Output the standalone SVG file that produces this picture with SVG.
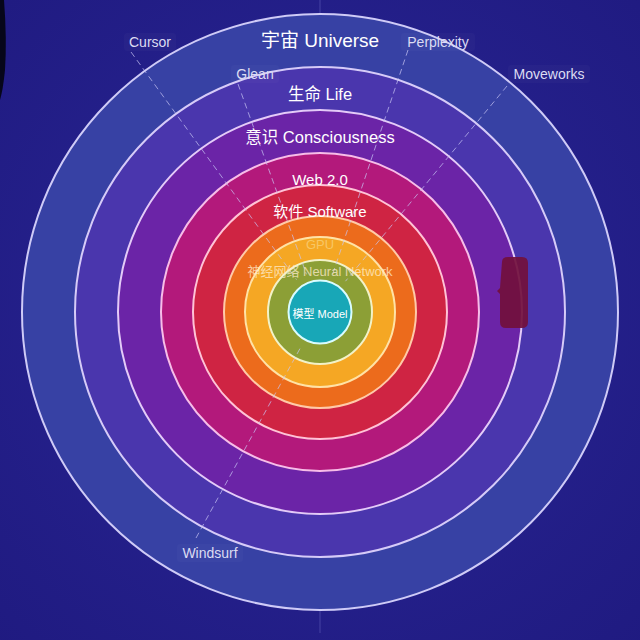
<svg xmlns="http://www.w3.org/2000/svg" width="640" height="640" viewBox="0 0 640 640">
  <defs>
    <radialGradient id="bg" cx="50%" cy="48%" r="75%">
      <stop offset="0" stop-color="#2a2696"/>
      <stop offset="1" stop-color="#1f1a80"/>
    </radialGradient>
    <style>
      .ring { stroke-width: 2; }
      .t { font-family: "Liberation Sans", "Noto Sans CJK SC", sans-serif; text-anchor: middle; fill: #ffffff; }
      .lab { font-family: "Liberation Sans", "Noto Sans CJK SC", sans-serif; text-anchor: middle; fill: #dcdcf2; font-size: 14px; }
      .dash { fill: none; stroke: #c8c4f4; stroke-width: 1; stroke-dasharray: 6 4; opacity: 0.7; }
      .guide { stroke: #8a88d8; stroke-width: 1; opacity: 0.35; }
      .chip { fill: #ffffff; opacity: 0.025; }
    </style>
  </defs>

  <rect x="0" y="0" width="640" height="640" fill="url(#bg)"/>
  <path d="M0,0 L4,0 Q7,40 5,70 Q3,90 0,100 Z" fill="#06061a"/>

  <g id="guides">
    <line class="guide" x1="320" y1="0" x2="320" y2="100"/>
    <line class="guide" x1="163" y1="99" x2="482" y2="99"/>
    <line class="guide" x1="160" y1="527" x2="480" y2="527"/>
    <line class="guide" x1="320" y1="527" x2="320" y2="633"/>
  </g>

  <g id="universe">
    <circle class="ring" cx="320" cy="312" r="298" fill="#3741a4" stroke="#cfcbf7"/>
  </g>
  <g id="life">
    <circle class="ring" cx="320" cy="312" r="245" fill="#4a36ad" stroke="#d6cbf8"/>
  </g>
  <g id="consciousness">
    <circle class="ring" cx="320" cy="312" r="202" fill="#6b24a7" stroke="#e4cbf8"/>
  </g>
  <g id="web20">
    <circle class="ring" cx="320" cy="312" r="159" fill="#b3197b" stroke="#f7bde8"/>
  </g>
  <g id="software">
    <circle class="ring" cx="320" cy="312" r="127" fill="#cf2443" stroke="#ffc3d6"/>
  </g>
  <g id="gpu">
    <circle class="ring" cx="320" cy="312" r="96" fill="#ec6b1c" stroke="#ffcaa8"/>
  </g>
  <g id="neural-network">
    <circle class="ring" cx="320" cy="312" r="75" fill="#f5a724" stroke="#ffe2a6"/>
  </g>
  <g id="green-ring">
    <circle class="ring" cx="320" cy="312" r="52" fill="#8c9f36" stroke="#f2f2c8"/>
  </g>
  <g id="model">
    <circle class="ring" cx="320" cy="312" r="31.5" fill="#18a7b7" stroke="#dafcff"/>
  </g>

  <path d="M502,262 Q502,257 508,257 L522,257 Q528,257 528,263 L528,322 Q528,328 522,328 L506,328 Q500,328 500,322 L500,294 L497,291 L500,288 Z" fill="#72103c" opacity="0.92"/>

  <g id="connectors">
    <line class="dash" x1="131" y1="52" x2="296.5" y2="279.6"/>
    <line class="dash" x1="238" y1="84" x2="306.5" y2="274.4"/>
    <line class="dash" x1="408" y1="50" x2="332.7" y2="274.1"/>
    <line class="dash" x1="507" y1="86" x2="345.5" y2="281.2"/>
    <line class="dash" x1="196" y1="538" x2="300.8" y2="347.1"/>
  </g>

  <g id="ring-labels">
    <text class="t" x="320" y="47" font-size="19">宇宙 Universe</text>
    <text class="t" x="320" y="100" font-size="16.5">生命 Life</text>
    <text class="t" x="320" y="143" font-size="16.5">意识 Consciousness</text>
    <text class="t" x="320" y="185" font-size="15">Web 2.0</text>
    <text class="t" x="320" y="217" font-size="15">软件 Software</text>
    <text class="t" x="320" y="249" font-size="13" style="fill:#f9d27a" opacity="0.75">GPU</text>
    <text class="t" x="320" y="276" font-size="13" style="fill:#ffeccc" opacity="0.75">神经网络 Neural Network</text>
    <text class="t" x="320" y="318" font-size="11">模型 Model</text>
  </g>

  <g id="cursor">
    <rect class="chip" x="124" y="33" width="52" height="18" rx="3"/>
    <text class="lab" x="150" y="47">Cursor</text>
  </g>
  <g id="glean">
    <rect class="chip" x="231" y="65" width="48" height="18" rx="3"/>
    <text class="lab" x="255" y="79">Glean</text>
  </g>
  <g id="perplexity">
    <rect class="chip" x="401" y="33" width="74" height="18" rx="3"/>
    <text class="lab" x="438" y="47">Perplexity</text>
  </g>
  <g id="moveworks">
    <rect class="chip" x="508" y="65" width="82" height="18" rx="3"/>
    <text class="lab" x="549" y="79">Moveworks</text>
  </g>
  <g id="windsurf">
    <rect class="chip" x="177" y="544" width="66" height="18" rx="3"/>
    <text class="lab" x="210" y="558">Windsurf</text>
  </g>
</svg>
